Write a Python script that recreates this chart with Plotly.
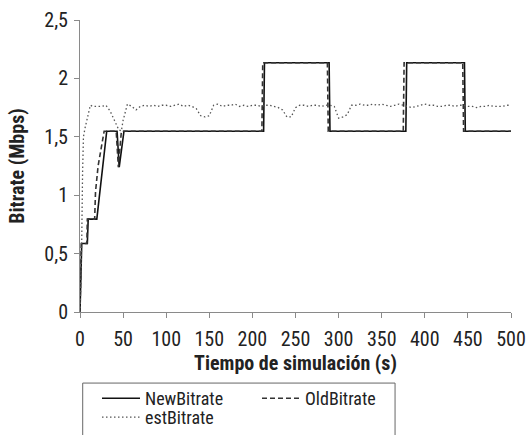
import plotly.graph_objects as go

# NewBitrate (s, Mbps)
new_t = [0, 2, 8.5, 9.5, 19.5, 26, 31, 43, 45.5, 51, 213, 214, 289, 290, 378, 379, 446, 447, 500]
new_v = [0, 0.586, 0.586, 0.795, 0.795, 1.24, 1.548, 1.548, 1.24, 1.548, 1.548, 2.134, 2.134, 1.548, 1.548, 2.134, 2.134, 1.548, 1.548]

# OldBitrate
old_t = [0, 1.5, 8, 8.5, 17, 18, 21, 28, 42, 44.5, 48, 211, 212, 287, 288, 375, 376, 444, 445, 500]
old_v = [0, 0.586, 0.586, 0.795, 0.795, 1.03, 1.25, 1.548, 1.548, 1.24, 1.548, 1.548, 2.134, 2.134, 1.548, 1.548, 2.134, 2.134, 1.548, 1.548]

# estBitrate
est_t = [0, 2, 3, 4, 6, 8, 10, 12, 15, 20, 25, 30, 35, 40, 45, 48, 50, 55, 60, 65, 70, 75, 80, 85, 90,
         95, 100, 105, 110, 115, 120, 125, 130, 135, 140, 145, 150, 155, 160, 165, 170, 175, 180, 185,
         190, 195, 200, 205, 210, 215, 220, 225, 230, 235, 240, 245, 250, 255, 260, 265, 270, 275, 280,
         285, 290, 295, 300, 305, 310, 315, 320, 325, 330, 335, 340, 345, 350, 355, 360, 365, 370, 375,
         380, 385, 390, 395, 400, 405, 410, 415, 420, 425, 430, 435, 440, 445, 450, 455, 460, 465, 470,
         475, 480, 485, 490, 495, 500]
est_v = [0, 0.6, 1.2, 1.5, 1.58, 1.65, 1.72, 1.77, 1.76, 1.76, 1.76, 1.77, 1.72, 1.64, 1.56, 1.55, 1.64,
         1.78, 1.76, 1.73, 1.76, 1.77, 1.76, 1.77, 1.76, 1.77, 1.77, 1.76, 1.77, 1.78, 1.76, 1.77, 1.76,
         1.74, 1.68, 1.67, 1.68, 1.77, 1.78, 1.76, 1.77, 1.77, 1.78, 1.76, 1.77, 1.76, 1.77, 1.77, 1.76,
         1.77, 1.77, 1.76, 1.75, 1.73, 1.67, 1.67, 1.75, 1.77, 1.77, 1.76, 1.77, 1.77, 1.76, 1.77, 1.77,
         1.76, 1.66, 1.67, 1.69, 1.77, 1.77, 1.78, 1.77, 1.77, 1.78, 1.77, 1.78, 1.77, 1.76, 1.77, 1.78,
         1.77, 1.76, 1.75, 1.76, 1.77, 1.78, 1.77, 1.77, 1.76, 1.76, 1.77, 1.77, 1.76, 1.77, 1.77, 1.76,
         1.76, 1.75, 1.76, 1.76, 1.77, 1.76, 1.76, 1.76, 1.77, 1.77]

FONT = "Liberation Sans Narrow, Roboto Condensed, Arial Narrow, sans-serif"
W, H = 528, 435

fig = go.Figure()
fig.add_trace(go.Scatter(x=new_t, y=new_v, mode="lines", name="NewBitrate", legend="legend",
                         line=dict(color="#111111", width=1.6)))
fig.add_trace(go.Scatter(x=old_t, y=old_v, mode="lines", name="OldBitrate", legend="legend",
                         line=dict(color="#333333", width=1.6, dash="5px,3px")))
fig.add_trace(go.Scatter(x=est_t, y=est_v, mode="lines", name="estBitrate", legend="legend2",
                         line=dict(color="#555555", width=1.3, dash="1.5px,2.5px")))

axis_common = dict(showgrid=False, zeroline=False, showline=True, linecolor="#8a8a8a", linewidth=1,
                   ticks="outside", ticklen=5, tickcolor="#8a8a8a", tickwidth=1, automargin=False,
                   tickfont=dict(family=FONT, size=20, color="#222222"))

legend_common = dict(orientation="h", xref="container", yref="container", xanchor="left", yanchor="top",
                     entrywidth=107, entrywidthmode="pixels", itemwidth=38,
                     bgcolor="rgba(0,0,0,0)", borderwidth=0, tracegroupgap=0,
                     font=dict(family=FONT, size=18, color="#222222"))

fig.update_layout(
    width=W, height=H,
    margin=dict(l=80, r=17, t=20, b=123, autoexpand=False),
    paper_bgcolor="white", plot_bgcolor="white",
    separators=",.",
    font=dict(family=FONT, size=18, color="#222222"),
    xaxis=dict(range=[0, 500], dtick=50, ticklabelstandoff=4,
               title=dict(text="<b>Tiempo de simulación (s)</b>", font=dict(family=FONT, size=20, color="#222222"), standoff=0),
               **axis_common),
    yaxis=dict(range=[0, 2.5], dtick=0.5, ticklabelstandoff=2,
               title=dict(text="<b>Bitrate (Mbps)</b>", font=dict(family=FONT, size=20, color="#222222"), standoff=14),
               **axis_common),
    legend=dict(x=97 / W, y=1 - 380 / H, **legend_common),
    legend2=dict(x=97 / W, y=1 - 399 / H, **legend_common),
    showlegend=True,
)

fig.add_shape(type="rect", xref="paper", yref="paper", x0=0.0063, x1=0.731, y0=-0.7, y1=-0.2434,
              line=dict(color="#666666", width=1), fillcolor="rgba(0,0,0,0)")

fig.write_html("out.html", config={"displayModeBar": False},
               post_script="document.body.style.margin='0';document.body.style.overflow='hidden';")
